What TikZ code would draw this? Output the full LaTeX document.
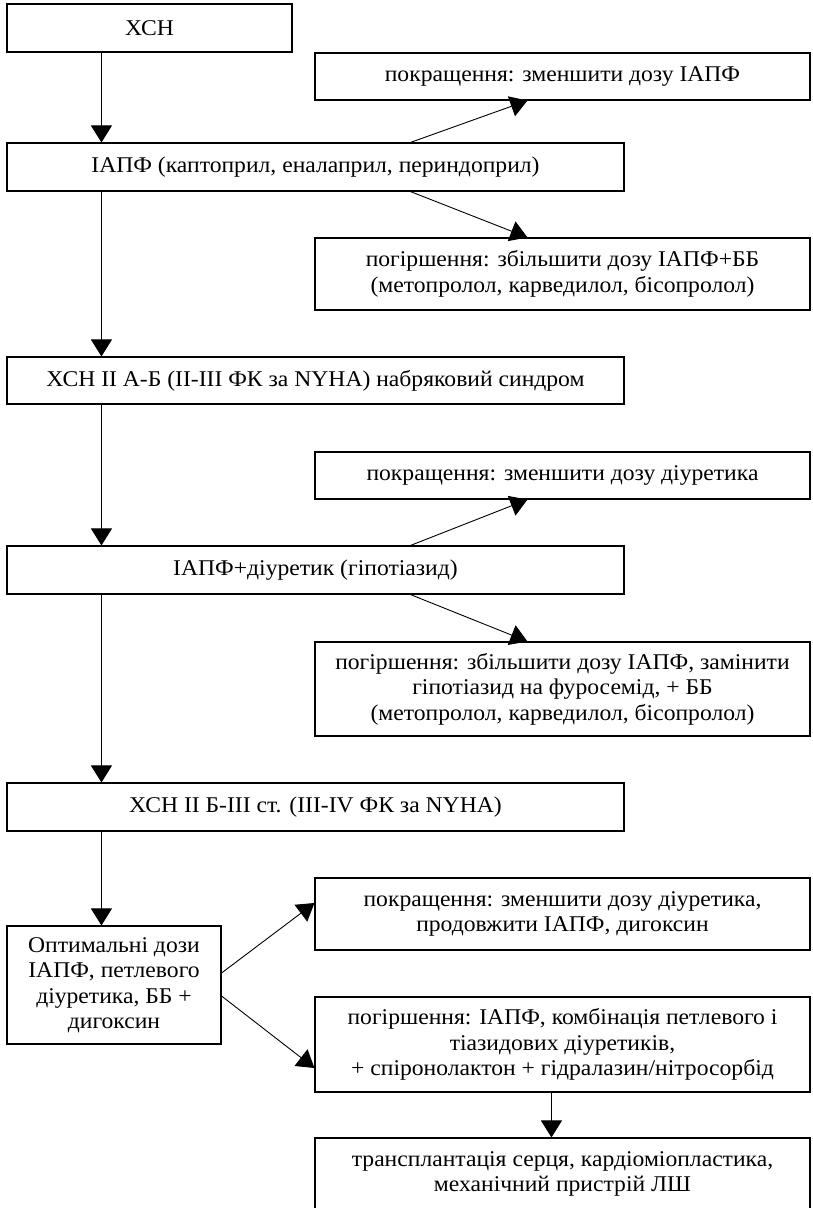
\documentclass[tikz,border=0pt]{standalone}
\usepackage{fontspec}
\setmainfont{Liberation Serif}[FakeStretch=1.05]
\usetikzlibrary{arrows.meta}
\tikzset{
  box/.style={draw, line width=1.1pt, align=center, inner sep=0pt, font=\fontsize{22.5}{25.5}\selectfont},
  arr/.style={line width=0.9pt, -{Triangle[length=17pt,width=21pt]}}
}
\begin{document}
\begin{tikzpicture}[x=1pt,y=-1pt]
\useasboundingbox (0,0) rectangle (812,1208);
% left column
\node[box, minimum width=285pt, minimum height=48pt] (xsn) at (149.5,28) {ХСН};
\node[box, minimum width=617pt, minimum height=48pt] (iapf) at (315.5,167) {ІАПФ (каптоприл, еналаприл, периндоприл)};
\node[box, minimum width=617pt, minimum height=47pt] (xsn2) at (315.5,380.5) {ХСН II А-Б (II-III ФК за NYHA) набряковий синдром};
\node[box, minimum width=617pt, minimum height=48pt] (iapfd) at (315.5,570) {ІАПФ+діуретик (гіпотіазид)};
\node[box, minimum width=617pt, minimum height=48pt] (xsn3) at (315.5,807) {ХСН II Б-III ст. (III-IV ФК за NYHA)};
\node[box, minimum width=214pt, minimum height=118pt] (opt) at (114,985) {Оптимальні дози\\ІАПФ, петлевого\\діуретика, ББ +\\дигоксин};
% right column
\node[box, minimum width=495pt, minimum height=47pt] (impr1) at (562.5,76.5) {покращення: зменшити дозу ІАПФ};
\node[box, minimum width=495pt, minimum height=72pt] (worse1) at (562.5,274) {погіршення: збільшити дозу ІАПФ+ББ\\(метопролол, карведилол, бісопролол)};
\node[box, minimum width=495pt, minimum height=47pt] (impr2) at (562.5,475.5) {покращення: зменшити дозу діуретика};
\node[box, minimum width=495pt, minimum height=94pt] (worse2) at (562.5,689) {погіршення: збільшити дозу ІАПФ, замінити\\гіпотіазид на фуросемід, + ББ\\(метопролол, карведилол, бісопролол)};
\node[box, minimum width=495pt, minimum height=72pt] (impr3) at (562.5,914) {покращення: зменшити дозу діуретика,\\продовжити ІАПФ, дигоксин};
\node[box, minimum width=495pt, minimum height=95pt] (worse3) at (562.5,1044.5) {погіршення: ІАПФ, комбінація петлевого і\\тіазидових діуретиків,\\+ спіронолактон + гідралазин/нітросорбід};
\node[box, minimum width=495pt, minimum height=72pt] (trans) at (562.5,1174) {трансплантація серця, кардіоміопластика,\\механічний пристрій ЛШ};
% vertical arrows
\draw[arr] ([xshift=95pt]xsn.south west) -- ([xshift=95pt]iapf.north west);
\draw[arr] ([xshift=95pt]iapf.south west) -- ([xshift=95pt]xsn2.north west);
\draw[arr] ([xshift=95pt]xsn2.south west) -- ([xshift=95pt]iapfd.north west);
\draw[arr] ([xshift=95pt]iapfd.south west) -- ([xshift=95pt]xsn3.north west);
\draw[arr] ([xshift=95pt]xsn3.south west) -- ([xshift=95pt]opt.north west);
% branch arrows
\draw[arr] ([xshift=404pt]iapf.north west) -- ([xshift=213pt]impr1.south west);
\draw[arr] ([xshift=404pt]iapf.south west) -- ([xshift=213pt]worse1.north west);
\draw[arr] ([xshift=404pt]iapfd.north west) -- ([xshift=213pt]impr2.south west);
\draw[arr] ([xshift=404pt]iapfd.south west) -- ([xshift=213pt]worse2.north west);
\draw[arr] ([yshift=12pt]opt.east) -- ([yshift=11pt]impr3.west);
\draw[arr] ([yshift=-11pt]opt.east) -- ([yshift=-23.5pt]worse3.west);
\draw[arr] ([xshift=237pt]worse3.south west) -- ([xshift=237pt]trans.north west);
\end{tikzpicture}
\end{document}
